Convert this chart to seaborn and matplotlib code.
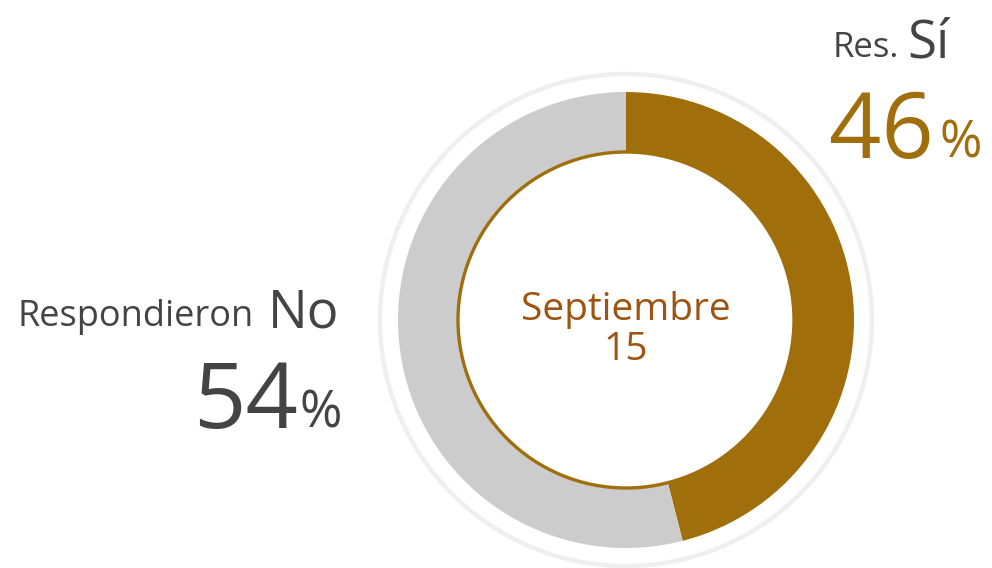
import matplotlib
matplotlib.use("Agg")
import matplotlib.pyplot as plt
import seaborn as sns
from matplotlib.patches import Circle

sns.set_theme(style="white")
plt.rcParams['font.family'] = ['Open Sans', 'DejaVu Sans']

categories = ["Sí", "No"]
values = [46, 54]
colors = ["#A06E0B", "#CCCCCC"]
center_label = ["Septiembre", "15"]

W, H = 992, 568
fig = plt.figure(figsize=(W / 100, H / 100), dpi=100)
ax = fig.add_axes([0, 0, 1, 1])

cx, cy = 626, H - 320

# outer light ring
ax.add_patch(Circle((cx, cy), 246, fill=False, edgecolor="#EFEFEF", linewidth=3.2, zorder=1))

ax.pie(values, colors=colors, startangle=90, counterclock=False, center=(cx, cy),
       radius=228, wedgeprops=dict(width=60, linewidth=0), frame=True)
ax.set_xlim(0, W)
ax.set_ylim(0, H)
ax.set_aspect("equal")
ax.axis("off")

ax.add_patch(Circle((cx, cy), 168, facecolor="white", edgecolor="#A06E0B", linewidth=2.4, zorder=5))

brown_txt = "#9E5410"
dark = "#444444"

ax.text(cx, H - 320, center_label[0], ha="center", va="baseline", fontsize=28, color=brown_txt, zorder=6)
ax.text(cx, H - 360, center_label[1], ha="center", va="baseline", fontsize=28, color=brown_txt, zorder=6)

# left label (No)
ax.text(254, H - 326, "Respondieron", ha="right", va="baseline", fontsize=26, color=dark)
ax.text(339, H - 328, categories[1], ha="right", va="baseline", fontsize=38, color=dark)
ax.text(298, H - 428, f"{values[1]}", ha="right", va="baseline", fontsize=66, color=dark)
ax.text(299, H - 428, "%", ha="left", va="baseline", fontsize=37, color=dark)

# right label (Sí)
ax.text(833, H - 57, "Res.", ha="left", va="baseline", fontsize=25, color=dark)
ax.text(907, H - 58, categories[0], ha="left", va="baseline", fontsize=38, color=dark)
ax.text(829, H - 158, f"{values[0]}", ha="left", va="baseline", fontsize=66, color="#A06E0B")
ax.text(939, H - 158, "%", ha="left", va="baseline", fontsize=37, color="#A06E0B")

fig.savefig("out.png", dpi=100, facecolor="white")
